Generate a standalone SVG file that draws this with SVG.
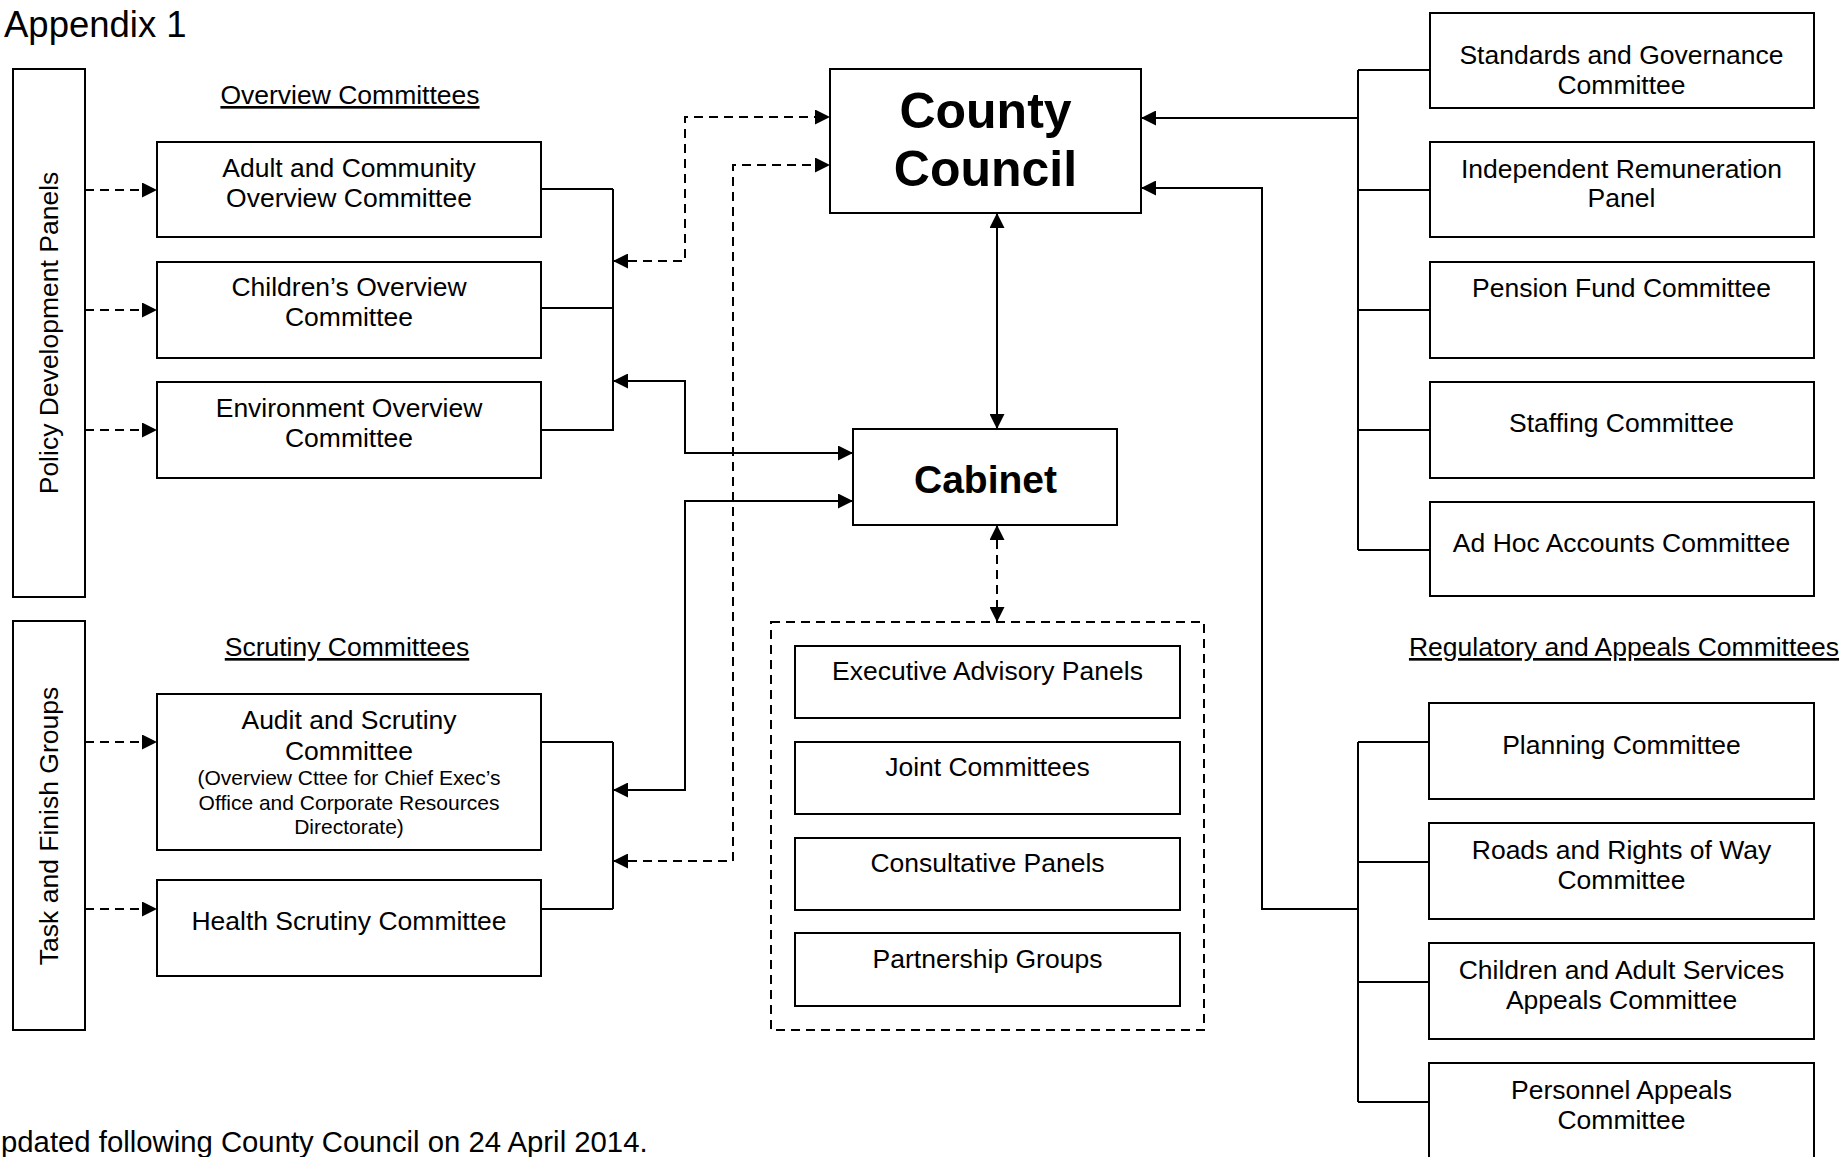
<svg xmlns="http://www.w3.org/2000/svg" width="1845" height="1157" viewBox="0 0 1845 1157">
<style>
.bg{fill:#fff}
.box{fill:#fff;stroke:#000;stroke-width:2}
.grp{fill:none;stroke:#000;stroke-width:2;stroke-dasharray:9 6}
.t{font-family:"Liberation Sans",Arial,Helvetica,sans-serif;font-size:26.5px;text-anchor:middle;fill:#000}
.s{font-size:21px}
.b{font-weight:bold}
.h{text-decoration:underline}
.l{text-anchor:start}
.c{fill:none;stroke:#000;stroke-width:2}
.d{stroke-dasharray:9 6}
</style>
<defs>
<marker id="ah" markerUnits="userSpaceOnUse" markerWidth="15" markerHeight="15" refX="15" refY="7.5" orient="auto-start-reverse" viewBox="0 0 15 15">
<path d="M0,0 L15,7.5 L0,15 z" fill="#000" stroke="none"/>
</marker>
</defs>
<rect class="bg" x="0" y="0" width="1845" height="1157"/>

<text class="t l" x="4" y="37" style="font-size:36.5px">Appendix 1</text>
<text class="t h" x="350" y="104">Overview Committees</text>
<text class="t h" x="347" y="656">Scrutiny Committees</text>
<text class="t h" x="1624" y="656">Regulatory and Appeals Committees</text>
<text class="t l" x="1" y="1152" style="font-size:29.3px">pdated following County Council on 24 April 2014.</text>

<g id="connectors">
<path class="c d" d="M85,190 H157" marker-end="url(#ah)"/>
<path class="c d" d="M85,310 H157" marker-end="url(#ah)"/>
<path class="c d" d="M85,430 H157" marker-end="url(#ah)"/>
<path class="c d" d="M85,742 H157" marker-end="url(#ah)"/>
<path class="c d" d="M85,909 H157" marker-end="url(#ah)"/>
<path class="c" d="M541,189 H613 M541,308 H613 M541,430 H614 M613,189 V430"/>
<path class="c" d="M541,742 H613 M541,909 H613 M613,742 V909"/>
<path class="c d" d="M613,261 H685 V117 H830" marker-start="url(#ah)" marker-end="url(#ah)"/>
<path class="c d" d="M613,861 H733 V165 H830" marker-start="url(#ah)" marker-end="url(#ah)"/>
<path class="c" d="M613,381 H685 V453 H853" marker-start="url(#ah)" marker-end="url(#ah)"/>
<path class="c" d="M613,790 H685 V501 H853" marker-start="url(#ah)" marker-end="url(#ah)"/>
<path class="c" d="M997,213 V429" marker-start="url(#ah)" marker-end="url(#ah)"/>
<path class="c d" d="M997,525 V622" marker-start="url(#ah)" marker-end="url(#ah)"/>
<path class="c" d="M1358,118 H1141" marker-end="url(#ah)"/>
<path class="c" d="M1358,70 V550 M1358,70 H1430 M1358,190 H1430 M1358,310 H1430 M1358,430 H1430 M1358,550 H1430"/>
<path class="c" d="M1358,909 H1262 V188 H1141" marker-end="url(#ah)"/>
<path class="c" d="M1358,742 V1102 M1358,742 H1429 M1358,862 H1429 M1358,982 H1429 M1358,1102 H1429"/>
</g>

<g id="policy-development-panels">
<rect class="box" x="13" y="69" width="72" height="528"/>
<text class="t" x="58" y="333" transform="rotate(-90 58 333)">Policy Development Panels</text>
</g>
<g id="task-and-finish-groups">
<rect class="box" x="13" y="621" width="72" height="409"/>
<text class="t" x="58" y="826" transform="rotate(-90 58 826)">Task and Finish Groups</text>
</g>

<g id="adult-community">
<rect class="box" x="157" y="142" width="384" height="95"/>
<text class="t" x="349" y="176.5">Adult and Community</text>
<text class="t" x="349" y="206.5">Overview Committee</text>
</g>
<g id="childrens-overview">
<rect class="box" x="157" y="262" width="384" height="96"/>
<text class="t" x="349" y="296">Children’s Overview</text>
<text class="t" x="349" y="326">Committee</text>
</g>
<g id="environment-overview">
<rect class="box" x="157" y="382" width="384" height="96"/>
<text class="t" x="349" y="417">Environment Overview</text>
<text class="t" x="349" y="447">Committee</text>
</g>
<g id="audit-scrutiny">
<rect class="box" x="157" y="694" width="384" height="156"/>
<text class="t" x="349" y="728.5">Audit and Scrutiny</text>
<text class="t" x="349" y="760">Committee</text>
<text class="t s" x="349" y="785">(Overview Cttee for Chief Exec’s</text>
<text class="t s" x="349" y="809.5">Office and Corporate Resources</text>
<text class="t s" x="349" y="834">Directorate)</text>
</g>
<g id="health-scrutiny">
<rect class="box" x="157" y="880" width="384" height="96"/>
<text class="t" x="349" y="930">Health Scrutiny Committee</text>
</g>

<g id="county-council">
<rect class="box" x="830" y="69" width="311" height="144"/>
<text class="t b" x="985.5" y="128" style="font-size:50px">County</text>
<text class="t b" x="985.5" y="186" style="font-size:50px">Council</text>
</g>
<g id="cabinet">
<rect class="box" x="853" y="429" width="264" height="96"/>
<text class="t b" x="985.5" y="493" style="font-size:39px">Cabinet</text>
</g>

<g id="executive-group">
<rect class="grp" x="771" y="622" width="433" height="408"/>
<g id="executive-advisory-panels">
<rect class="box" x="795" y="646" width="385" height="72"/>
<text class="t" x="987.5" y="680">Executive Advisory Panels</text>
</g>
<g id="joint-committees">
<rect class="box" x="795" y="742" width="385" height="72"/>
<text class="t" x="987.5" y="776">Joint Committees</text>
</g>
<g id="consultative-panels">
<rect class="box" x="795" y="838" width="385" height="72"/>
<text class="t" x="987.5" y="872">Consultative Panels</text>
</g>
<g id="partnership-groups">
<rect class="box" x="795" y="933" width="385" height="73"/>
<text class="t" x="987.5" y="968">Partnership Groups</text>
</g>
</g>

<g id="standards-governance">
<rect class="box" x="1430" y="13" width="384" height="95"/>
<text class="t" x="1621.5" y="63.5">Standards and Governance</text>
<text class="t" x="1621.5" y="94">Committee</text>
</g>
<g id="independent-remuneration">
<rect class="box" x="1430" y="142" width="384" height="95"/>
<text class="t" x="1621.5" y="177.5">Independent Remuneration</text>
<text class="t" x="1621.5" y="206.5">Panel</text>
</g>
<g id="pension-fund">
<rect class="box" x="1430" y="262" width="384" height="96"/>
<text class="t" x="1621.5" y="297">Pension Fund Committee</text>
</g>
<g id="staffing">
<rect class="box" x="1430" y="382" width="384" height="96"/>
<text class="t" x="1621.5" y="432">Staffing Committee</text>
</g>
<g id="ad-hoc-accounts">
<rect class="box" x="1430" y="502" width="384" height="94"/>
<text class="t" x="1621.5" y="552">Ad Hoc Accounts Committee</text>
</g>

<g id="planning">
<rect class="box" x="1429" y="703" width="385" height="96"/>
<text class="t" x="1621.5" y="753.5">Planning Committee</text>
</g>
<g id="roads-rights-of-way">
<rect class="box" x="1429" y="823" width="385" height="96"/>
<text class="t" x="1621.5" y="858.5">Roads and Rights of Way</text>
<text class="t" x="1621.5" y="888.5">Committee</text>
</g>
<g id="children-adult-services-appeals">
<rect class="box" x="1429" y="943" width="385" height="96"/>
<text class="t" x="1621.5" y="978.5">Children and Adult Services</text>
<text class="t" x="1621.5" y="1008.5">Appeals Committee</text>
</g>
<g id="personnel-appeals">
<rect class="box" x="1429" y="1063" width="385" height="100"/>
<text class="t" x="1621.5" y="1098.5">Personnel Appeals</text>
<text class="t" x="1621.5" y="1128.5">Committee</text>
</g>
</svg>
